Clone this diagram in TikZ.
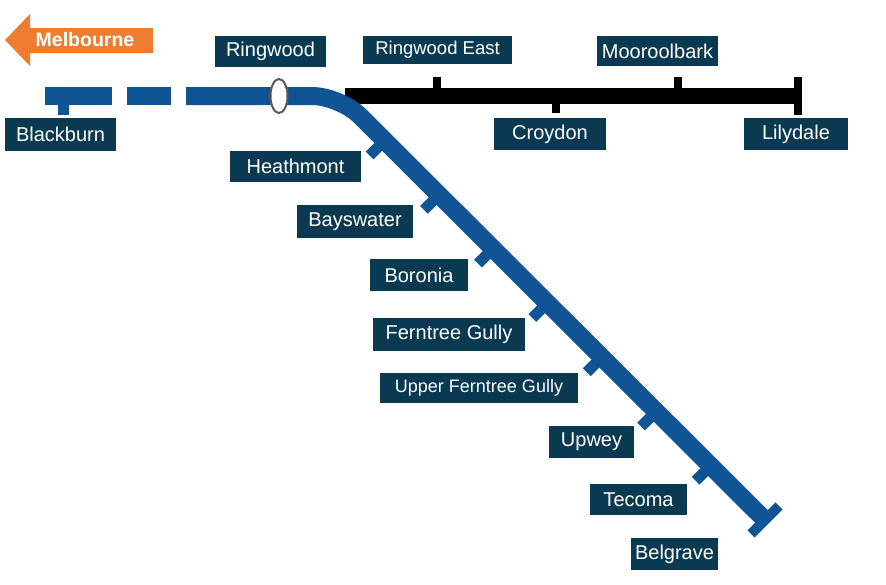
\documentclass[tikz,border=0pt]{standalone}
\usepackage{fontspec}
\setmainfont{Liberation Sans}
\usetikzlibrary{calc}
\definecolor{lblue}{HTML}{0A3A52}
\definecolor{tblue}{HTML}{0F5596}
\definecolor{mor}{HTML}{EE7D31}
\tikzset{
  lbl/.style={fill=lblue,text=white,inner sep=0pt,font=\fontsize{20}{22}\selectfont},
  track/.style={tblue,line width=18pt},
  btrack/.style={black,line width=16pt},
  tk/.style={tblue,line width=11pt},
  btk/.style={black,line width=8pt}
}
\newcommand{\lb}[6]{\node[lbl,minimum width=#4pt,minimum height=#5pt] (#1) at (#2,#3) {#6};}
\begin{document}
\begin{tikzpicture}[x=1pt,y=-1pt]
\useasboundingbox (0,0) rectangle (886,584);
% Melbourne arrow
\fill[mor] (5,40) -- (30,14) -- (30,28) -- (153,28) -- (153,53) -- (30,53) -- (30,66) -- cycle;
\node[text=white,font=\bfseries\fontsize{19.5}{21}\selectfont] (mel) at (85,40) {Melbourne};
% coordinates
\coordinate (bs) at (45,96);
\coordinate (d1e) at (112,96);
\coordinate (d2s) at (127,96);
\coordinate (d2e) at (171,96);
\coordinate (d3s) at (186,96);
\coordinate (corner) at (340,96);
\coordinate (bel) at (765,520);
\coordinate (bks) at (345,96);
\coordinate (lil) at (798,96);
% black line
\draw[btrack] (bks) -- (lil);
\draw[black,line width=8pt] (798,77) -- (798,115);
\draw[btk] (437,96) -- (437,77);
\draw[btk] (678,96) -- (678,77);
\draw[btk] (556,96) -- (556,113);
% blue line
\draw[track] (bs) -- (d1e);
\draw[track] (d2s) -- (d2e);
\draw[track,rounded corners=28pt] (d3s) -- (corner) -- (bel);
\draw[tk] (63,96) -- (63,115);
\draw[tblue,line width=10pt] ($(bel)+(-14,14)$) -- ($(bel)+(14,-14)$);
\foreach \t in {0.105,0.233,0.360,0.488,0.616,0.744,0.872}{
  \draw[tk] ($(corner)!\t!(bel)$) -- ++(-15,15);
}
% Ringwood station
\draw[gray!70!black,fill=white,line width=2pt] (279,96) ellipse (8.5pt and 17pt);
% labels
\lb{ringwood}{270.5}{51.5}{111}{31}{Ringwood}
\lb{rwe}{437.5}{50}{149}{28}{\fontsize{18.5}{20}\selectfont Ringwood East}
\lb{moor}{657.5}{51}{121}{30}{Mooroolbark}
\lb{blackburn}{60.5}{134.5}{111}{33}{Blackburn}
\lb{croydon}{550}{134}{112}{32}{Croydon}
\lb{lilydale}{796}{134}{104}{32}{Lilydale}
\lb{heath}{295.5}{166.5}{131}{31}{Heathmont}
\lb{bays}{355}{221.5}{116}{33}{Bayswater}
\lb{boronia}{419}{275}{98}{32}{Boronia}
\lb{fg}{449}{334.5}{152}{33}{Ferntree Gully}
\lb{ufg}{479}{388}{198}{30}{\fontsize{18}{20}\selectfont Upper Ferntree Gully}
\lb{upwey}{591.5}{442}{85}{32}{Upwey}
\lb{tecoma}{638.5}{499.5}{97}{31}{Tecoma}
\lb{belgrave}{674.5}{554}{87}{32}{Belgrave}
\end{tikzpicture}
\end{document}
